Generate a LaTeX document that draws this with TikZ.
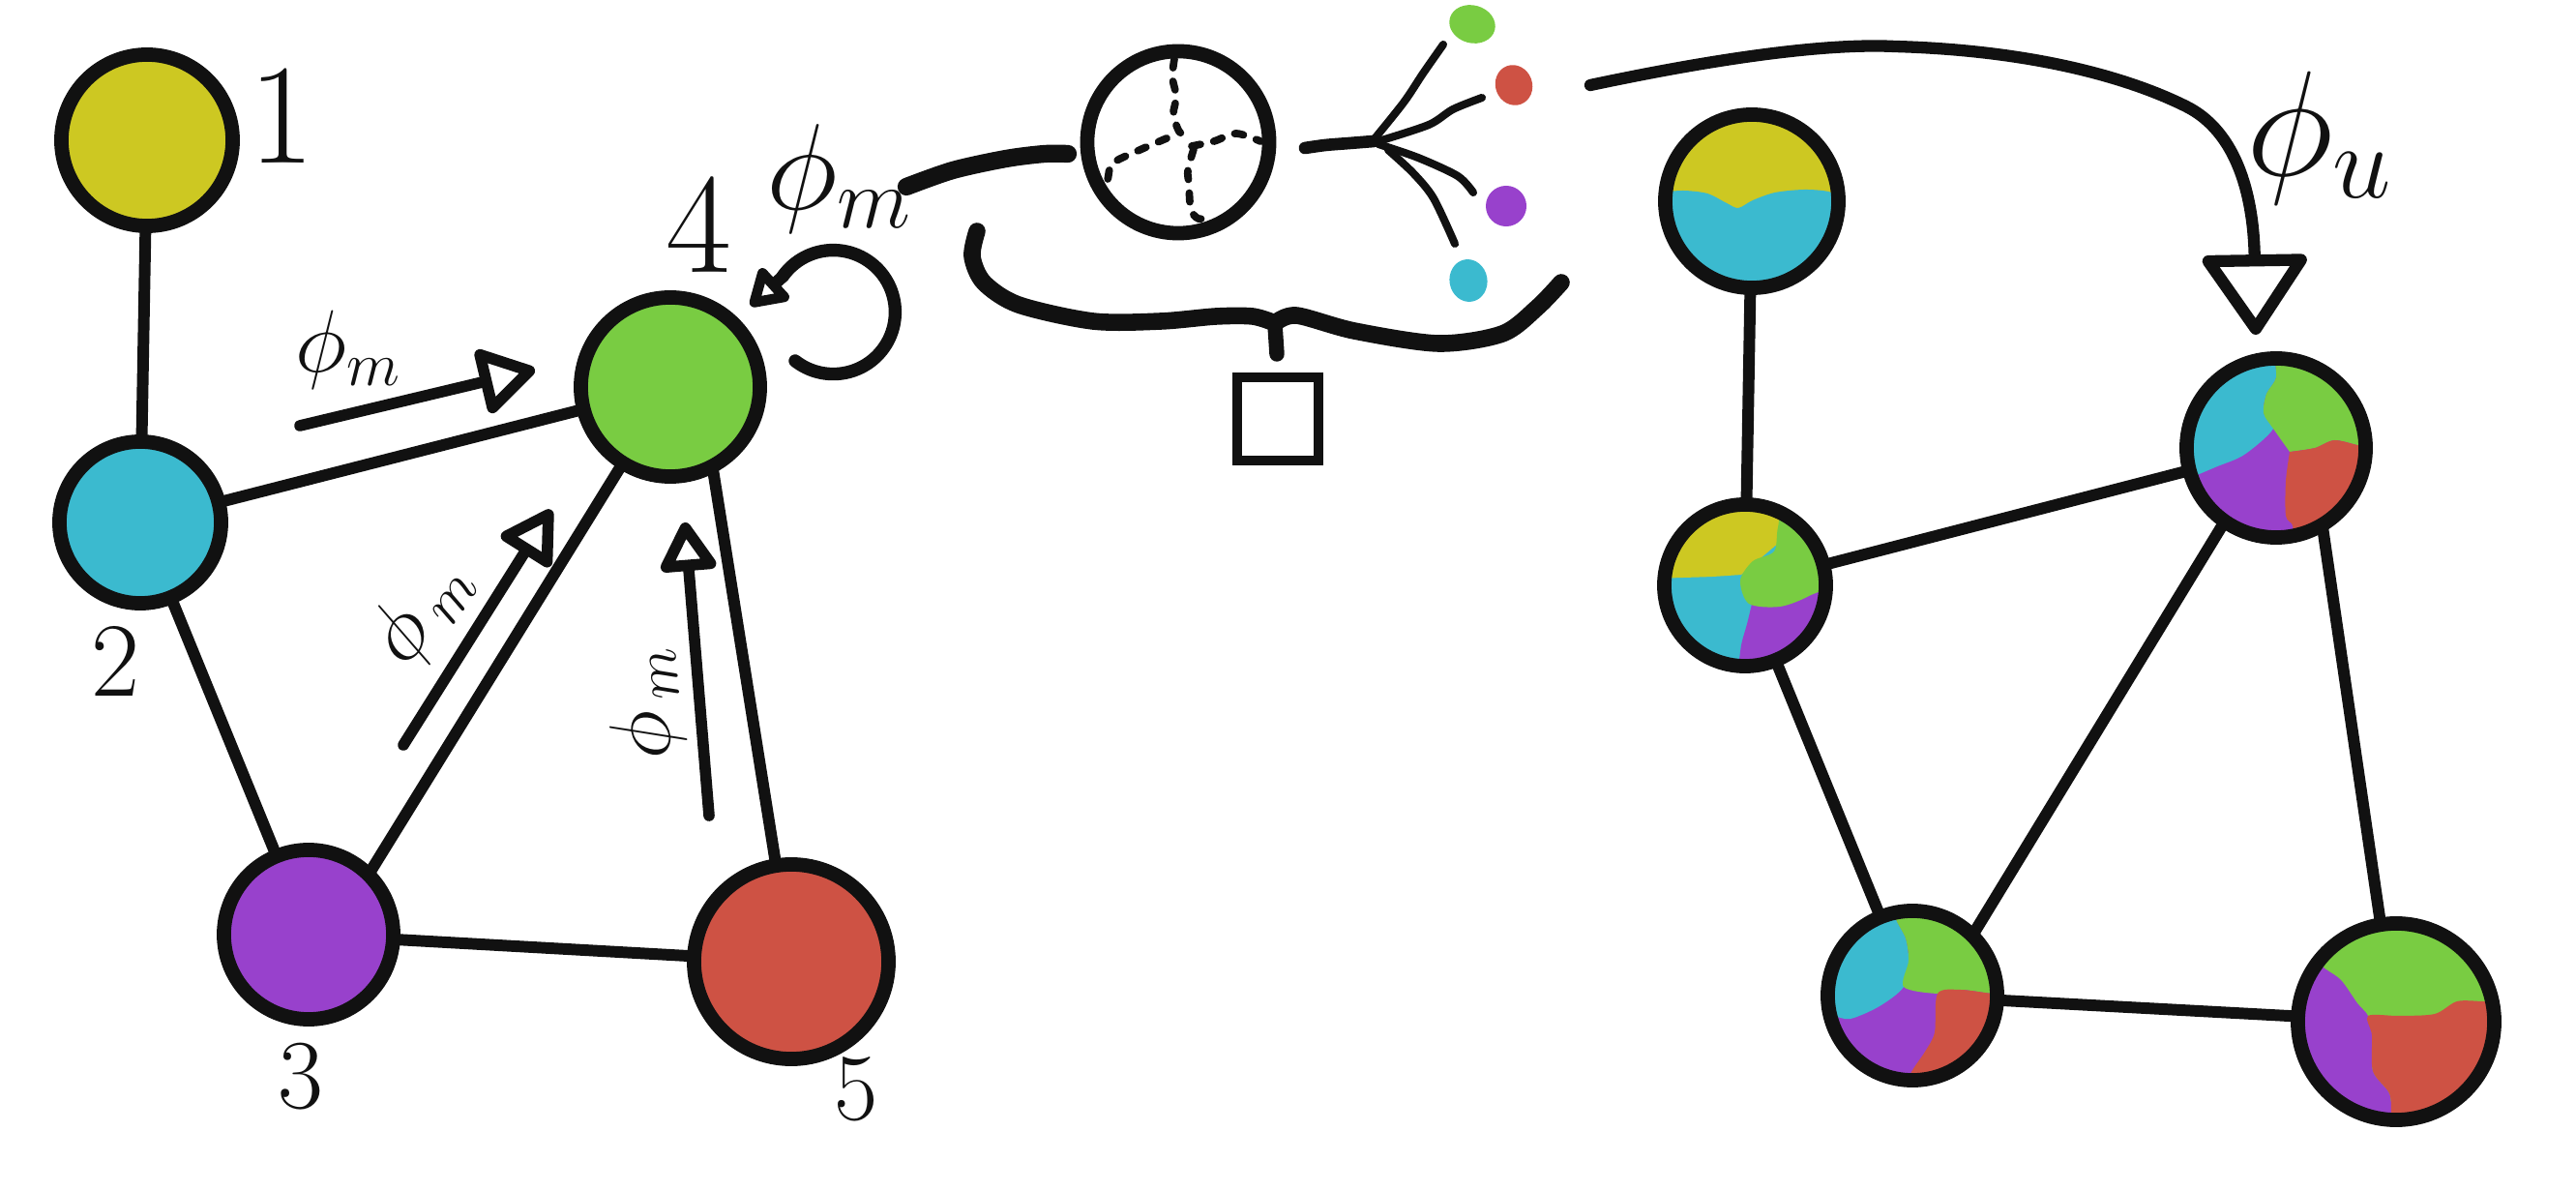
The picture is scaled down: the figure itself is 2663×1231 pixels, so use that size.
\RequirePackage{fix-cm}
\documentclass[tikz,border=0pt]{standalone}
\usetikzlibrary{arrows.meta,shapes.geometric}
\definecolor{ink}{HTML}{111111}
\definecolor{cY}{HTML}{CDC822}
\definecolor{cC}{HTML}{3BBACF}
\definecolor{cG}{HTML}{79CC42}
\definecolor{cP}{HTML}{9841CC}
\definecolor{cR}{HTML}{CE5244}
\tikzset{
  nd/.style={circle, draw=ink, line width=4.2pt, inner sep=0pt, outer sep=0pt},
  edge/.style={draw=ink, line width=3.4pt, line cap=round},
  ann/.style={draw=ink, line width=3.3pt, line cap=round, line join=round},
  lbl/.style={inner sep=0pt, text=ink},
  dotb/.style={ellipse, fill=#1, inner sep=0pt, draw=none},
  dsh/.style={draw=ink, line width=2.2pt, line cap=round, dash pattern=on 2.6pt off 4pt},
  branch/.style={draw=ink, line width=2.3pt, line cap=round, line join=round},
  heavy/.style={draw=ink, line width=5pt, line cap=round, line join=round},
}
\begin{document}
\begin{tikzpicture}[x=0.01cm,y=-0.01cm]
\useasboundingbox (0,0) rectangle (2663,1231);

% ---------------- left graph ----------------
\node[nd, fill=cY, minimum size=1.77cm] (n1) at (152,145) {};
\node[nd, fill=cC, minimum size=1.67cm] (n2) at (145,540) {};
\node[nd, fill=cG, minimum size=1.85cm] (n4) at (693,400) {};
\node[nd, fill=cP, minimum size=1.75cm] (n3) at (319,966) {};
\node[nd, fill=cR, minimum size=2.01cm] (n5) at (818,994) {};

\draw[edge] (n1) -- (n2);
\draw[edge] (n2) -- (n4);
\draw[edge] (n2) -- (n3);
\draw[edge] (n3.45) -- (n4.-122);
\draw[edge] (n3) -- (n5);
\draw[edge] (n4.-62) -- (n5.99);

\node[lbl, font=\fontsize{42}{50}\selectfont] (l1) at (291,120) {1};
\node[lbl, font=\fontsize{42}{50}\selectfont] (l4) at (722,232) {4};
\node[lbl, font=\fontsize{31}{37}\selectfont] (l2) at (120,683) {2};
\node[lbl, font=\fontsize{29}{35}\selectfont] (l3) at (311,1113) {3};
\node[lbl, font=\fontsize{28}{34}\selectfont] (l5) at (885,1126) {5};

% message arrows
\coordinate (aA1) at (310,440); \coordinate (aA2) at (553,382);
\coordinate (aB1) at (417,770); \coordinate (aB2) at (570,527);
\coordinate (aC1) at (733,843); \coordinate (aC2) at (708,540);
\draw[ann, -{Triangle[open,round,length=18pt,width=21pt]}] (aA1) -- (aA2);
\draw[ann, -{Triangle[open,round,length=17pt,width=19pt]}] (aB1) -- (aB2);
\draw[ann, -{Triangle[open,round,length=16pt,width=18pt]}] (aC1) -- (aC2);
\node[lbl, font=\fontsize{26}{31}\selectfont] (pA) at (360,362) {$\phi_m$};
\node[lbl, font=\fontsize{25}{30}\selectfont, rotate=55] (pB) at (436,632) {$\phi_{\,m}$};
\node[lbl, font=\fontsize{25}{30}\selectfont, rotate=95] (pC) at (668,728) {$\phi_{\,m}$};

% self loop
\coordinate (lp) at (822,373);
\coordinate (lpe) at (809,286);
\coordinate (lpt) at (776,316);
\draw[ann, line width=3.8pt] (lp) arc[start angle=128, end angle=-144.5, radius=64];
\draw[ann, line width=3.6pt, -{Triangle[open,round,length=12pt,width=14pt]}] (lpe) -- (lpt);
\node[lbl, font=\fontsize{36}{43}\selectfont] (pD) at (868,185) {$\phi_m$};

% ---------------- middle ----------------
\draw[heavy, line width=5.2pt] plot[smooth] coordinates {(937,193) (985,176) (1040,164) (1080,159) (1104,159)};
\node[nd, line width=4.2pt, minimum size=1.88cm] (net) at (1218,147) {};
\draw[dsh] plot[smooth] coordinates {(1214,61) (1212,80) (1216,100) (1213,118) (1219,136) (1227,140)};
\draw[dsh] plot[smooth] coordinates {(1232,151) (1255,146) (1278,138) (1303,146)};
\draw[dsh] plot[smooth] coordinates {(1234,154) (1228,176) (1229,190) (1231,216) (1239,226) (1255,224)};
\draw[dsh] plot[smooth] coordinates {(1206,143) (1176,156) (1150,169) (1145,186) (1140,199)};

% tree
\draw[branch, line width=3.6pt] plot[smooth] coordinates {(1349,153) (1370,150) (1395,148) (1420,146)};
\draw[branch] plot[smooth] coordinates {(1418,147) (1451,106) (1471,76) (1492,46)};
\draw[branch] plot[smooth] coordinates {(1425,146) (1477,129) (1502,113) (1532,101)};
\draw[branch] plot[smooth] coordinates {(1425,149) (1466,163) (1507,182) (1523,199)};
\draw[branch] plot[smooth] coordinates {(1435,155) (1461,179) (1482,205) (1504,252)};

\node[dotb=cG, minimum width=0.48cm, minimum height=0.39cm, rotate=-15] (dG) at (1522,25) {};
\node[dotb=cR, minimum width=0.38cm, minimum height=0.42cm, rotate=20] (dR) at (1565,88) {};
\node[dotb=cP, minimum width=0.42cm, minimum height=0.42cm] (dP) at (1557,213) {};
\node[dotb=cC, minimum width=0.39cm, minimum height=0.44cm, rotate=10] (dC) at (1518,290) {};

% brace
\draw[heavy] plot[smooth] coordinates {(1010,239) (1005,265) (1017,292) (1053,315) (1130,332) (1200,332) (1257,327) (1295,327) (1318,334)};
\draw[heavy] plot[smooth] coordinates {(1318,334) (1340,326) (1400,342) (1487,355) (1553,345) (1589,318) (1614,292)};
\node[draw=ink, line width=2.6pt, inner sep=0pt, minimum width=0.84cm, minimum height=0.86cm] (agg) at (1321,433) {};
\draw[heavy, line width=4.4pt] (1318,336) -- (1320,366);

% update arrow
\coordinate (u1) at (1644,88);
\coordinate (u2) at (2332,346);
\draw[ann, line width=3.5pt, -{Triangle[open,round,length=25pt,width=33pt]}] (u1) .. controls (1800,55) and (1900,45) .. (1959,48) .. controls (2100,52) and (2200,80) .. (2260,110) .. controls (2320,140) and (2330,220) .. (u2);
\node[lbl, font=\fontsize{44}{52}\selectfont] (pU) at (2398,143) {$\phi_u$};

% ---------------- right graph ----------------
\begin{scope}
 \clip (1811,208) circle (90);
 \fill[cY] (1811,208) circle (90);
 \fill[cC] plot[smooth] coordinates {(1715,199) (1740,197) (1765,200) (1785,210) (1797,215) (1812,207) (1835,199) (1865,196) (1890,198) (1910,206)} -- (1910,310) -- (1710,310) -- cycle;
\end{scope}
\begin{scope}
 \clip (1804,605) circle (84);
 \fill[cC] (1804,605) circle (84);
 \fill[cY] plot[smooth] coordinates {(1710,598) (1740,597) (1770,596) (1800,594)} -- (1840,560) -- (1850,510) -- (1710,510) -- cycle;
 \fill[cP] plot[smooth] coordinates {(1812,620) (1806,645) (1800,667) (1796,700)} -- (1900,700) -- (1900,590) -- cycle;
 \fill[cG] plot[smooth cycle] coordinates {(1848,515) (1838,545) (1834,570) (1812,580) (1799,600) (1808,624) (1840,627) (1870,616) (1900,595) (1905,515)};
\end{scope}
\begin{scope}
 \clip (2353,463) circle (93);
 \fill[cP] (2353,463) circle (93);
 \fill[cC] plot[smooth] coordinates {(2350,365) (2353,390) (2343,407) (2340,427) (2350,443) (2320,470) (2290,483) (2250,500)} -- (2250,360) -- cycle;
 \fill[cG] plot[smooth] coordinates {(2350,365) (2353,390) (2343,407) (2340,427) (2350,443) (2367,467)} -- plot[smooth] coordinates {(2367,467) (2393,463) (2413,455) (2437,460) (2460,465)} -- (2460,360) -- cycle;
 \fill[cR] plot[smooth] coordinates {(2367,467) (2393,463) (2413,455) (2437,460) (2460,465)} -- (2460,570) -- (2372,570) -- plot[smooth] coordinates {(2370,560) (2370,543) (2363,533) (2363,497) (2367,467)} -- cycle;
\end{scope}
\begin{scope}
 \clip (1977,1029) circle (88);
 \fill[cP] (1977,1029) circle (88);
 \fill[cC] plot[smooth] coordinates {(1958,930) (1960,950) (1970,970) (1973,993) (1968,1020) (1943,1040) (1913,1053) (1895,1050) (1880,1050)} -- (1880,930) -- cycle;
 \fill[cG] plot[smooth] coordinates {(1958,930) (1960,950) (1970,970) (1973,993) (1968,1020) (2003,1027) (2027,1023) (2060,1027) (2080,1027)} -- (2080,930) -- cycle;
 \fill[cR] plot[smooth] coordinates {(2080,1027) (2060,1027) (2027,1023) (2003,1027) (2000,1067) (1990,1087) (1975,1110) (1973,1130)} -- (2080,1130) -- cycle;
\end{scope}
\begin{scope}
 \clip (2477,1056) circle (102);
 \fill[cG] (2477,1056) circle (102);
 \fill[cP] plot[smooth] coordinates {(2395,990) (2402,1000) (2420,1013) (2437,1037) (2448,1050) (2452,1070) (2453,1107) (2470,1130) (2472,1152) (2472,1170)} -- (2360,1170) -- (2360,990) -- cycle;
 \fill[cR] plot[smooth] coordinates {(2590,1035) (2567,1035) (2540,1035) (2517,1048) (2480,1050) (2448,1050) (2452,1070) (2453,1107) (2470,1130) (2472,1152) (2472,1170)} -- (2590,1170) -- cycle;
\end{scope}

\node[nd, minimum size=1.79cm] (m1) at (1811,208) {};
\node[nd, minimum size=1.67cm] (m2) at (1804,605) {};
\node[nd, minimum size=1.85cm] (m4) at (2353,463) {};
\node[nd, minimum size=1.75cm] (m3) at (1977,1029) {};
\node[nd, minimum size=2.03cm] (m5) at (2477,1056) {};

\draw[edge] (m1) -- (m2);
\draw[edge] (m2) -- (m4);
\draw[edge] (m2) -- (m3);
\draw[edge] (m3.45) -- (m4.-125);
\draw[edge] (m3) -- (m5);
\draw[edge] (m4.-59) -- (m5.99);
\end{tikzpicture}
\end{document}
